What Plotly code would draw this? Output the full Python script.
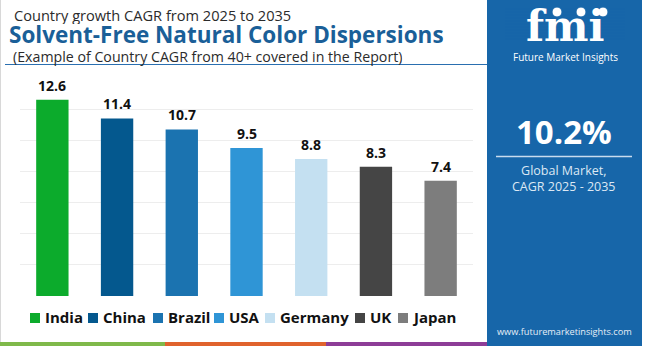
import plotly.graph_objects as go

W, H = 650, 346

countries = ["India", "China", "Brazil", "USA", "Germany", "UK", "Japan"]
cagr = [12.6, 11.4, 10.7, 9.5, 8.8, 8.3, 7.4]
colors = ["#0cab2c", "#04588e", "#1b73b0", "#2f95d6", "#c4e0f1", "#454545", "#7d7d7d"]
y_ticks = [0, 2, 4, 6, 8, 10, 12, 14]

title_top = "Country growth CAGR from 2025 to 2035"
title_main = "Solvent-Free Natural Color Dispersions"
title_sub = "(Example of Country CAGR from 40+ covered in the Report)"
global_cagr = "10.2%"
panel_lines = ["Global Market,", "CAGR 2025 - 2035"]
website = "www.futuremarketinsights.com"
brand = "fmi"
brand_name = "Future Market Insights"

PANEL = "#1766a9"

def px(x):
    return x / W

def py(y):
    return 1 - y / H

fig = go.Figure()
fig.add_trace(go.Bar(
    x=countries, y=cagr, marker=dict(color=colors, line=dict(width=0)),
    showlegend=False, hoverinfo="x+y",
))

annotations = []
# value labels
for c, v in zip(countries, cagr):
    annotations.append(dict(x=c, y=v, xref="x", yref="y", text=f"<b>{v}</b>",
                            showarrow=False, yanchor="bottom", yshift=3,
                            font=dict(family="Open Sans", size=14, color="#111111")))

# titles
annotations.append(dict(x=px(13), y=py(15), xref="paper", yref="paper", xanchor="left", yanchor="middle",
                        text=title_top, showarrow=False, height=19, borderpad=0,
                        font=dict(family="Open Sans", size=14.6, color="#2b2b2b")))
annotations.append(dict(x=px(8), y=py(34.5), xref="paper", yref="paper", xanchor="left", yanchor="middle",
                        text=f"<b>{title_main}</b>", showarrow=False, height=27, borderpad=0,
                        font=dict(family="Open Sans", size=22.5, color="#1a5f98")))
annotations.append(dict(x=px(12), y=py(56.5), xref="paper", yref="paper", xanchor="left", yanchor="middle",
                        text=title_sub, showarrow=False, height=19, borderpad=0,
                        font=dict(family="Open Sans", size=14.2, color="#2b2b2b")))

# manual legend
leg_sq = [30, 88, 153, 214, 265, 355, 398]
leg_tx = [43, 101, 166, 227, 278, 368, 410]
shapes = []
for c, col, sx, tx in zip(countries, colors, leg_sq, leg_tx):
    shapes.append(dict(type="rect", xref="paper", yref="paper", x0=px(sx), x1=px(sx + 10),
                       y0=py(323), y1=py(313), fillcolor=col, line=dict(width=0)))
    annotations.append(dict(x=px(tx), y=py(317), xref="paper", yref="paper", xanchor="left", yanchor="middle",
                            text=f"<b>{c}</b>", showarrow=False,
                            font=dict(family="Open Sans", size=15, color="#111111")))

# title underline
shapes.append(dict(type="line", xref="paper", yref="paper", x0=px(5), x1=px(487), y0=py(64.5), y1=py(64.5),
                   line=dict(color="#2a6fb0", width=1.2)))
# left border
shapes.append(dict(type="line", xref="paper", yref="paper", x0=px(0.5), x1=px(0.5), y0=py(0), y1=py(342),
                   line=dict(color="#d8d8d8", width=1)))
# bottom strip
for x0, x1, col in [(0, 165, "#7fb94a"), (165, 326, "#e0632d"), (326, 487, "#8d3d97")]:
    shapes.append(dict(type="rect", xref="paper", yref="paper", x0=px(x0), x1=px(x1), y0=py(346), y1=py(342),
                       fillcolor=col, line=dict(width=0)))
# right panel
shapes.append(dict(type="rect", xref="paper", yref="paper", x0=px(487), x1=px(642), y0=py(346), y1=py(0),
                   fillcolor=PANEL, line=dict(width=0), layer="below"))
shapes.append(dict(type="line", xref="paper", yref="paper", x0=px(496), x1=px(632), y0=py(156.5), y1=py(156.5),
                   line=dict(color="#c9dcee", width=1.5)))

# logo
annotations.append(dict(x=px(565), y=py(25.5), xref="paper", yref="paper", xanchor="center", yanchor="middle",
                        text=f"<b>{brand}</b>", showarrow=False, borderpad=0, height=42,
                        font=dict(family="DejaVu Serif", size=42, color="white")))
for yy in range(9, 42, 3):
    shapes.append(dict(type="line", xref="paper", yref="paper", x0=px(505), x1=px(625), y0=py(yy), y1=py(yy),
                       line=dict(color=PANEL, width=0.8), layer="above"))
for cx in [557, 581, 603]:
    shapes.append(dict(type="circle", xref="paper", yref="paper", x0=px(cx - 5), x1=px(cx + 5),
                       y0=py(17), y1=py(7), fillcolor="white", line=dict(color=PANEL, width=1)))
annotations.append(dict(x=px(565), y=py(57), xref="paper", yref="paper", xanchor="center", yanchor="middle",
                        text=brand_name, showarrow=False, borderpad=0, height=14,
                        font=dict(family="Open Sans", size=10, color="white")))
annotations.append(dict(x=px(564), y=py(131), xref="paper", yref="paper", xanchor="center", yanchor="middle",
                        text=f"<b>{global_cagr}</b>", showarrow=False,
                        font=dict(family="Open Sans", size=33, color="white")))
annotations.append(dict(x=px(564), y=py(178), xref="paper", yref="paper", xanchor="center", yanchor="middle",
                        text="<br>".join(panel_lines), showarrow=False,
                        font=dict(family="Open Sans", size=12.5, color="#dce8f4")))
annotations.append(dict(x=px(564), y=py(331), xref="paper", yref="paper", xanchor="center", yanchor="middle",
                        text=website, showarrow=False,
                        font=dict(family="Open Sans", size=9.2, color="#e6eef7")))

fig.update_layout(
    width=W, height=H, margin=dict(l=0, r=0, t=0, b=0),
    paper_bgcolor="white", plot_bgcolor="white",
    bargap=0.5,
    xaxis=dict(domain=[px(20), px(473)], showticklabels=False, showgrid=False, zeroline=False,
               showline=False, ticks=""),
    yaxis=dict(domain=[py(296), py(78)], range=[0, 14], tickvals=y_ticks, showticklabels=False,
               showgrid=True, gridcolor="#ededed", gridwidth=1, zeroline=False, showline=False, ticks=""),
    shapes=shapes, annotations=annotations, showlegend=False,
)

fig.write_html("out.html")
